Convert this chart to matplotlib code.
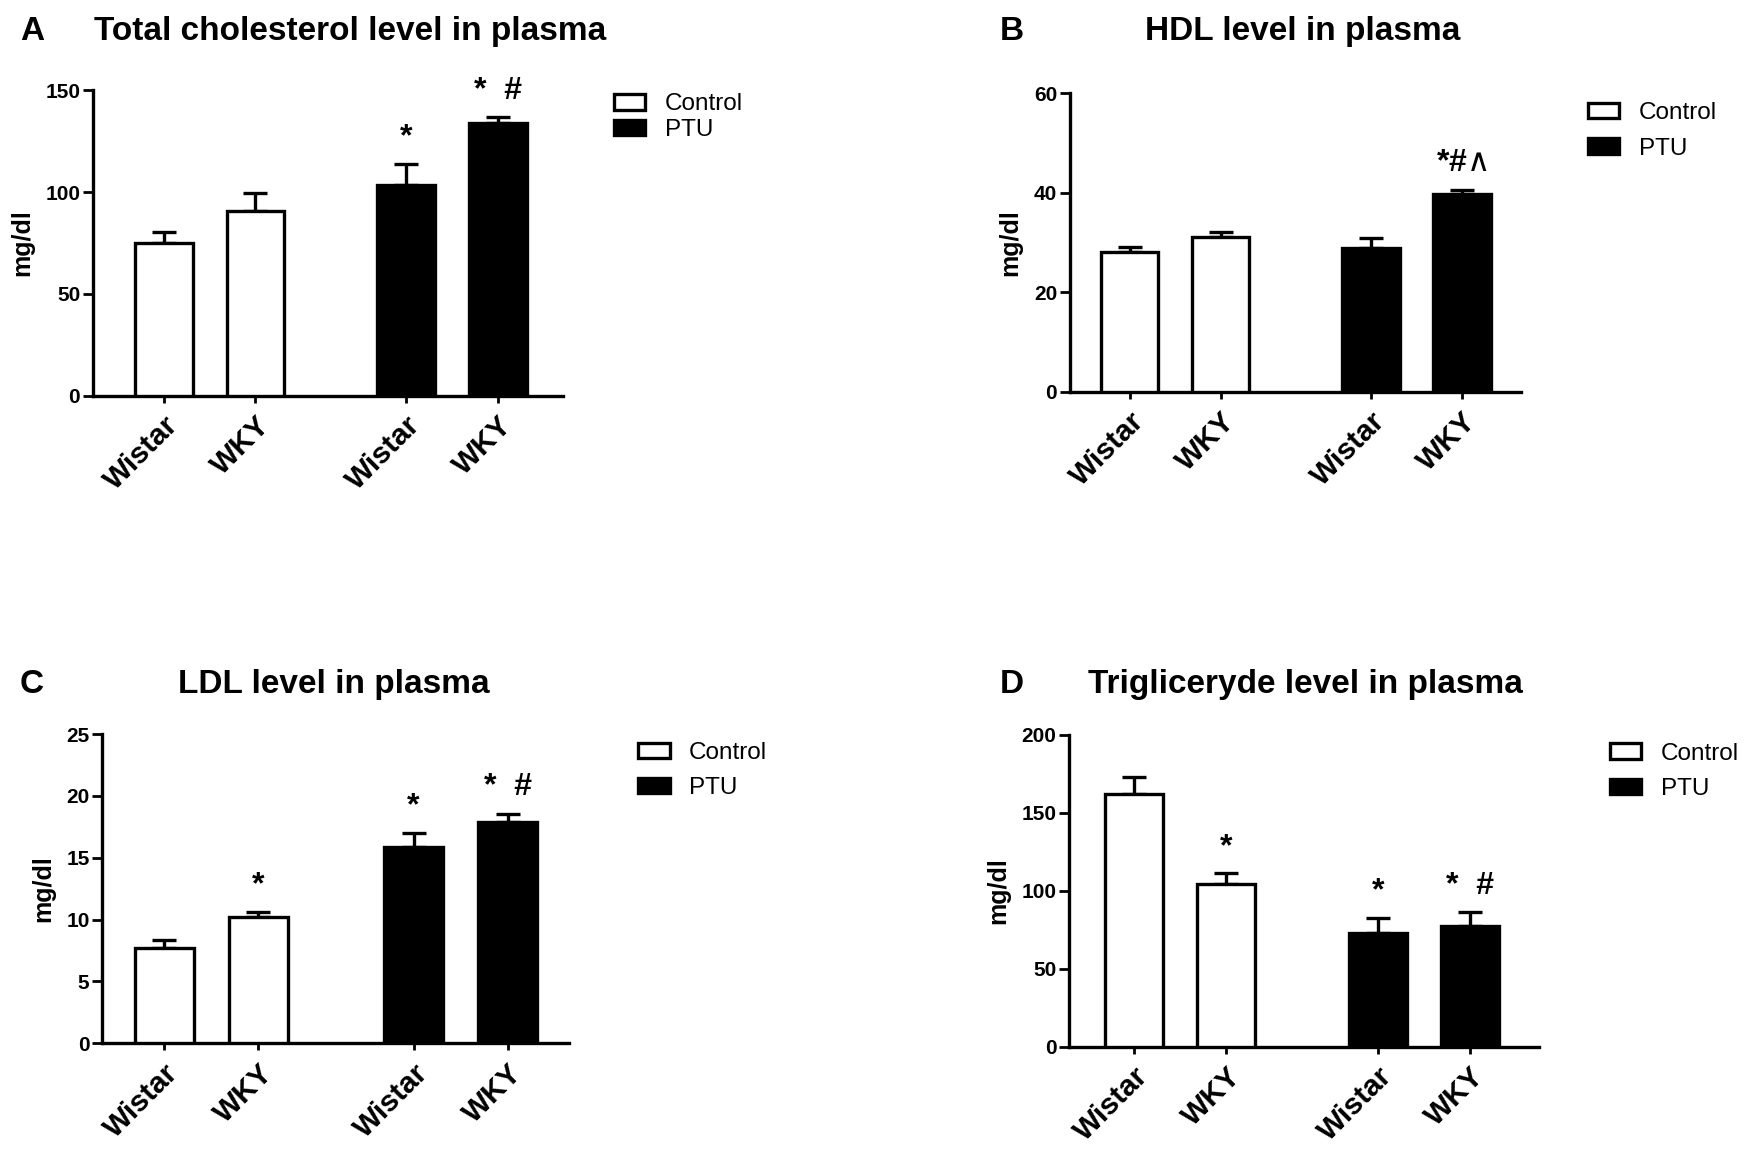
import numpy as np
import matplotlib
matplotlib.use("Agg")
import matplotlib.pyplot as plt
from matplotlib.patches import Patch

plt.rcParams["font.family"] = ["Liberation Sans", "DejaVu Sans"]

# data (mean, upper SEM)
strains = ["Wistar", "WKY", "Wistar", "WKY"]
groups = ["Control", "Control", "PTU", "PTU"]

chol_mean = [75.2, 90.7, 103.6, 133.8]
chol_err = [5.1, 8.9, 10.3, 3.1]
chol_sig = ["", "", "*", "*  #"]

hdl_mean = [28.0, 31.1, 28.9, 39.8]
hdl_err = [1.2, 1.1, 2.1, 0.8]
hdl_sig = ["", "", "", r"*#$\wedge$"]

ldl_mean = [7.7, 10.2, 15.9, 17.9]
ldl_err = [0.65, 0.45, 1.1, 0.65]
ldl_sig = ["", "*", "*", "*  #"]

tg_mean = [162.4, 104.3, 73.3, 77.6]
tg_err = [10.6, 6.9, 9.6, 8.6]
tg_sig = ["", "*", "*", "*  #"]

xpos = np.array([0, 1, 2.65, 3.65])
fill = {"Control": "white", "PTU": "black"}
LW = 2.4


def panel(ax, mean, err, sig, yticks, xlim, leg_xy, leg_space):
    colors = [fill[g] for g in groups]
    ax.bar(xpos, mean, width=0.63, color=colors, edgecolor="black",
           linewidth=LW, zorder=3)
    ax.errorbar(xpos, mean, yerr=[np.zeros(len(err)), err], fmt="none",
                ecolor="black", elinewidth=LW, capsize=8.5, capthick=LW,
                zorder=2)
    for x, m, e, s in zip(xpos, mean, err, sig):
        if s:
            ax.annotate(s, (x, m + e), xytext=(0, 19), textcoords="offset points",
                        ha="center", va="center", fontsize=23, fontweight="bold",
                        annotation_clip=False)

    ax.set_xlim(*xlim)
    ax.set_ylim(yticks[0], yticks[-1])
    ax.set_yticks(yticks)
    ax.set_xticks(xpos)
    ax.set_xticklabels(strains, rotation=45, ha="right", va="top",
                       rotation_mode="anchor", fontsize=21.5, fontweight="bold")
    for lab in ax.get_yticklabels():
        lab.set_fontweight("bold")
    ax.tick_params(axis="y", length=7, width=2, labelsize=15, pad=2)
    ax.tick_params(axis="x", length=5, width=2, pad=6)
    ax.set_ylabel("mg/dl", fontsize=18, fontweight="bold", labelpad=8)
    for side in ["top", "right"]:
        ax.spines[side].set_visible(False)
    for side in ["left", "bottom"]:
        ax.spines[side].set_linewidth(LW)

    handles = [Patch(facecolor=fill[g], edgecolor="black", linewidth=LW)
               for g in ["Control", "PTU"]]
    ax.legend(handles, ["Control", "PTU"], loc="upper left",
              bbox_to_anchor=leg_xy, frameon=False, fontsize=17.5,
              handlelength=1.3, handleheight=0.6, handletextpad=0.8,
              borderpad=0, borderaxespad=0, labelspacing=leg_space)


fig = plt.figure(figsize=(17.56, 11.58), dpi=100)

axA = fig.add_axes([0.0528, 0.6584, 0.2676, 0.2636])
axB = fig.add_axes([0.6091, 0.6617, 0.2573, 0.2577])
axC = fig.add_axes([0.0581, 0.0990, 0.2659, 0.2671])
axD = fig.add_axes([0.6088, 0.0959, 0.2677, 0.2694])

panel(axA, chol_mean, chol_err, chol_sig, [0, 50, 100, 150], (-0.78, 4.36), (1.109, 0.99), 0.15)
panel(axB, hdl_mean, hdl_err, hdl_sig, [0, 20, 40, 60], (-0.66, 4.30), (1.147, 0.97), 0.55)
panel(axC, ldl_mean, ldl_err, ldl_sig, [0, 5, 10, 15, 20, 25], (-0.66, 4.30), (1.148, 0.975), 0.55)
panel(axD, tg_mean, tg_err, tg_sig, [0, 50, 100, 150, 200], (-0.71, 4.40), (1.150, 0.975), 0.55)

title_kw = dict(fontsize=24, fontweight="bold", va="baseline")
fig.text(20 / 1756, 1 - 40 / 1158, "A", ha="left", **title_kw)
fig.text(350 / 1756, 1 - 40 / 1158, "Total cholesterol level in plasma", ha="center", **title_kw)
fig.text(1000 / 1756, 1 - 40 / 1158, "B", ha="left", **title_kw)
fig.text(1303 / 1756, 1 - 40 / 1158, "HDL level in plasma", ha="center", **title_kw)
fig.text(20 / 1756, 1 - 693 / 1158, "C", ha="left", **title_kw)
fig.text(334 / 1756, 1 - 693 / 1158, "LDL level in plasma", ha="center", **title_kw)
fig.text(1000 / 1756, 1 - 693 / 1158, "D", ha="left", **title_kw)
fig.text(1305 / 1756, 1 - 693 / 1158, "Triglicerydelevel in plasma".replace("dele", "de le"), ha="center", **title_kw)

fig.savefig("out.png", dpi=100)
